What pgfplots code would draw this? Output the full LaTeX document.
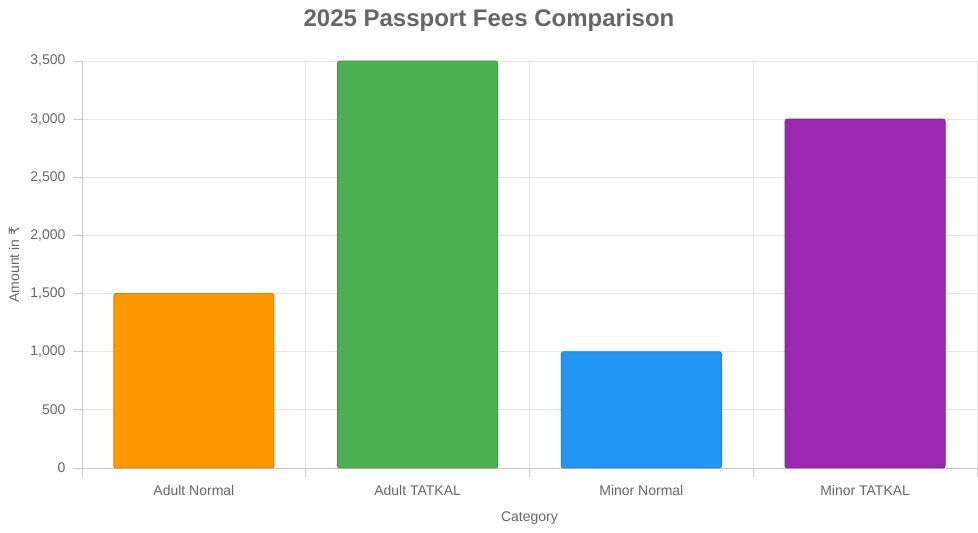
\documentclass[border=0pt]{standalone}
\usepackage{fontspec}
\setmainfont{Liberation Sans}
\newfontfamily\symfont{DejaVu Sans}
\usepackage{pgfplots}
\pgfplotsset{compat=1.18}

\definecolor{txt}{HTML}{666666}
\definecolor{gridc}{HTML}{E5E5E5}
\definecolor{axisc}{HTML}{C8C8C8}
\definecolor{cOrange}{HTML}{FF9800}
\definecolor{cGreen}{HTML}{4CAF50}
\definecolor{cBlue}{HTML}{2196F3}
\definecolor{cPurple}{HTML}{9C27B0}

\begin{document}
\begin{tikzpicture}
\useasboundingbox (0,0) rectangle (978pt,533pt);
\node[font=\fontsize{24}{28}\selectfont\bfseries, text=txt] at (489pt,513pt) {2025 Passport Fees Comparison};
\begin{axis}[
    at={(82pt,65pt)}, anchor=south west,
    width=895pt, height=407pt, scale only axis,
    xmin=-0.5, xmax=3.5,
    ymin=0, ymax=3500,
    xtick={0,1,2,3},
    xticklabels={Adult Normal, Adult TATKAL, Minor Normal, Minor TATKAL},
    minor xtick={-0.5,0.5,1.5,2.5,3.5},
    ytick={0,500,...,3500},
    xminorgrids, ymajorgrids,
    grid style={gridc, line width=0.8pt},
    minor grid style={gridc, line width=0.8pt},
    axis x line*=bottom, axis y line*=left,
    axis line style={axisc, line width=0.8pt, -},
    tick align=outside,
    x tick style={draw=none},
    minor x tick style={axisc, line width=0.8pt, draw=axisc},
    y tick style={axisc, line width=0.8pt},
    minor tick length=9pt, major tick length=9pt,
    tick label style={font=\fontsize{14}{16}\selectfont, text=txt},
    /pgf/number format/assume math mode=true,
    /pgf/number format/1000 sep={,},
    scaled y ticks=false,
    yticklabel style={anchor=east, xshift=-4pt},
    xticklabel style={anchor=center, yshift=-13pt},
    xlabel={Category},
    ylabel={Amount in {\symfont ₹}},
    every axis x label/.style={at={(axis description cs:0.5,0)}, anchor=center, yshift=-50pt,
        font=\fontsize{14}{16}\selectfont, text=txt},
    every axis y label/.style={at={(axis description cs:0,0.5)}, xshift=-68pt, rotate=90, anchor=center,
        font=\fontsize{14}{16}\selectfont, text=txt},
    ybar, bar width=0.715, bar shift=0pt,
    clip=false,
]
\addplot[fill=cOrange, draw=cOrange!85!black, line width=0.8pt, rounded corners=2pt] coordinates {(0,1500)};
\addplot[fill=cGreen, draw=cGreen!85!black, line width=0.8pt, rounded corners=2pt] coordinates {(1,3500)};
\addplot[fill=cBlue, draw=cBlue!85!black, line width=0.8pt, rounded corners=2pt] coordinates {(2,1000)};
\addplot[fill=cPurple, draw=cPurple!85!black, line width=0.8pt, rounded corners=2pt] coordinates {(3,3000)};
\end{axis}
\end{tikzpicture}
\end{document}
